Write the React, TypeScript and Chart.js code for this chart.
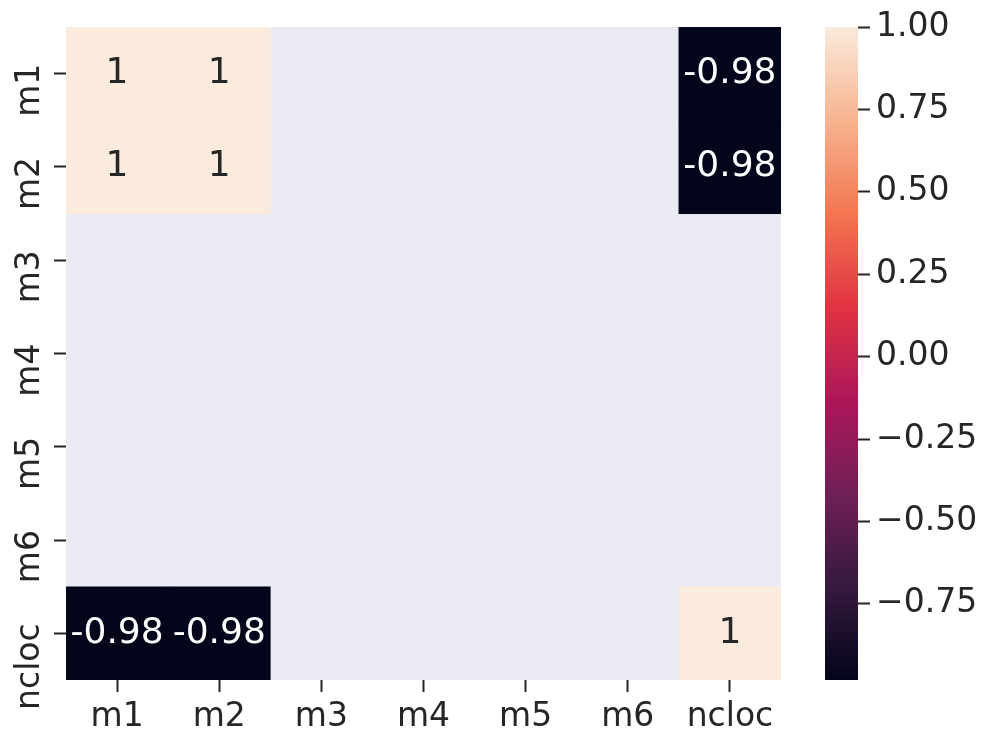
import React, { useEffect, useRef } from 'react';
import { Chart, registerables } from 'chart.js';

Chart.register(...registerables);

const rowLabels = ['m1', 'm2', 'm3', 'm4', 'm5', 'm6', 'ncloc'];
const colLabels = ['m1', 'm2', 'm3', 'm4', 'm5', 'm6', 'ncloc'];

const rowM1 = [1, 1, null, null, null, null, -0.981];
const rowM2 = [1, 1, null, null, null, null, -0.981];
const rowM3 = [null, null, null, null, null, null, null];
const rowM4 = [null, null, null, null, null, null, null];
const rowM5 = [null, null, null, null, null, null, null];
const rowM6 = [null, null, null, null, null, null, null];
const rowNcloc = [-0.981, -0.981, null, null, null, null, 1];

const matrix: (number | null)[][] = [rowM1, rowM2, rowM3, rowM4, rowM5, rowM6, rowNcloc];

const cbarTicks = [-0.75, -0.5, -0.25, 0, 0.25, 0.5, 0.75, 1.0];
const rocketStops = ['#03051a', '#35193e', '#701f57', '#ad1759', '#e13342', '#f37651', '#f6b48f', '#faebdd'];

const allVals = matrix.flat().filter((v) => v !== null) as number[];
const vmin = Math.min(...allVals);
const vmax = Math.max(...allVals);

const FONT = 'DejaVu Sans';
const TEXT = '#262626';
const NAN_BG = '#eaeaf2';

function hexToRgb(h: string) {
  return [parseInt(h.slice(1, 3), 16), parseInt(h.slice(3, 5), 16), parseInt(h.slice(5, 7), 16)];
}
function colorAt(t: number): string {
  const n = rocketStops.length - 1;
  const tt = Math.max(0, Math.min(1, t)) * n;
  const i = Math.min(n - 1, Math.floor(tt));
  const f = tt - i;
  const a = hexToRgb(rocketStops[i]);
  const b = hexToRgb(rocketStops[i + 1]);
  const c = a.map((x, k) => Math.round(x + (b[k] - x) * f));
  return `rgb(${c[0]},${c[1]},${c[2]})`;
}
function luminance(col: string) {
  const m = col.match(/\d+/g)!.map(Number).map((x) => {
    const s = x / 255;
    return s <= 0.03928 ? s / 12.92 : Math.pow((s + 0.055) / 1.055, 2.4);
  });
  return 0.2126 * m[0] + 0.7152 * m[1] + 0.0722 * m[2];
}
function fmt2g(v: number) {
  return Number(v.toPrecision(2)).toString();
}

const bgPlugin = {
  id: 'nanBg',
  beforeDatasetsDraw(chart: any) {
    const { ctx, chartArea } = chart;
    ctx.save();
    ctx.fillStyle = NAN_BG;
    ctx.fillRect(chartArea.left, chartArea.top, chartArea.right - chartArea.left, chartArea.bottom - chartArea.top);
    ctx.restore();
  },
};

const annotPlugin = {
  id: 'annot',
  afterDatasetsDraw(chart: any) {
    const { ctx } = chart;
    ctx.save();
    ctx.font = `36px "${FONT}"`;
    ctx.textAlign = 'center';
    ctx.textBaseline = 'middle';
    chart.data.datasets.forEach((ds: any, i: number) => {
      const meta = chart.getDatasetMeta(i);
      meta.data.forEach((el: any, j: number) => {
        const v = matrix[i][j];
        if (v === null || v === undefined) return;
        const col = colorAt((v - vmin) / (vmax - vmin));
        ctx.fillStyle = luminance(col) < 0.408 ? '#ffffff' : TEXT;
        ctx.fillText(fmt2g(v), el.x, (el.y + el.base) / 2);
      });
    });
    ctx.restore();
  },
};

function Heatmap() {
  const ref = useRef<HTMLCanvasElement>(null);
  useEffect(() => {
    const chart = new Chart(ref.current!, {
      type: 'bar',
      data: {
        labels: colLabels,
        datasets: rowLabels.map((r, i) => ({
          label: r,
          data: colLabels.map((_, j) => (matrix[i][j] === null ? null : [i, i + 1])) as any,
          grouped: false,
          barPercentage: 1,
          categoryPercentage: 1,
          borderWidth: 0,
          backgroundColor: (c: any) => {
            const v = matrix[i][c.dataIndex];
            return v === null ? 'rgba(0,0,0,0)' : colorAt((v - vmin) / (vmax - vmin));
          },
        })),
      },
      options: {
        responsive: false,
        animation: false,
        layout: { padding: { left: 0, top: 27, right: 19, bottom: 0 } },
        plugins: { legend: { display: false }, tooltip: { enabled: false } },
        scales: {
          x: {
            type: 'category',
            offset: true,
            border: { display: false },
            grid: { offset: false, drawOnChartArea: false, drawTicks: true, tickLength: 12, tickWidth: 2, tickColor: TEXT },
            ticks: { color: TEXT, font: { family: FONT, size: 33 }, padding: 6, maxRotation: 0, minRotation: 0 },
            afterFit: (s: any) => { s.height = 66; s.paddingLeft = 0; s.paddingRight = 0; },
          },
          y: {
            type: 'linear',
            min: 0,
            max: rowLabels.length,
            reverse: true,
            border: { display: false },
            grid: { drawOnChartArea: false, drawTicks: true, tickLength: 12, tickWidth: 2, tickColor: TEXT },
            afterBuildTicks: (s: any) => { s.ticks = rowLabels.map((_, i) => ({ value: i + 0.5 })); },
            ticks: {
              color: TEXT,
              font: { family: FONT, size: 33 },
              minRotation: 90,
              maxRotation: 90,
              crossAlign: 'near',
              padding: 24,
              labelOffset: -10,
              callback: (v: any) => rowLabels[Math.floor(Number(v))],
            },
            afterFit: (s: any) => { s.width = 66; s.paddingTop = 0; s.paddingBottom = 0; },
          },
        },
      } as any,
      plugins: [bgPlugin, annotPlugin],
    });
    return () => chart.destroy();
  }, []);
  return <canvas ref={ref} width={800} height={746} style={{ position: 'absolute', left: 0, top: 0, display: 'block' }} />;
}

function ColorBar() {
  const ref = useRef<HTMLCanvasElement>(null);
  useEffect(() => {
    const chart = new Chart(ref.current!, {
      type: 'bar',
      data: {
        labels: ['cbar'],
        datasets: [{
          data: [[vmin, vmax]] as any,
          barPercentage: 1,
          categoryPercentage: 1,
          borderWidth: 0,
          backgroundColor: (c: any) => {
            const ch = c.chart;
            if (!ch.chartArea) return rocketStops[0];
            const ys = ch.scales.y;
            const g = ch.ctx.createLinearGradient(0, ys.getPixelForValue(vmin), 0, ys.getPixelForValue(vmax));
            rocketStops.forEach((col, k) => g.addColorStop(k / (rocketStops.length - 1), col));
            return g;
          },
        }],
      },
      options: {
        responsive: false,
        animation: false,
        layout: { padding: { left: 25, top: 27, right: 0, bottom: 66 } },
        plugins: { legend: { display: false }, tooltip: { enabled: false } },
        scales: {
          x: { type: 'category', display: false, offset: true },
          y: {
            type: 'linear',
            position: 'right',
            min: vmin,
            max: vmax,
            border: { display: false },
            grid: { drawOnChartArea: false, drawTicks: true, tickLength: 12, tickWidth: 2, tickColor: TEXT },
            afterBuildTicks: (s: any) => { s.ticks = cbarTicks.map((v) => ({ value: v })); },
            ticks: {
              color: TEXT,
              font: { family: FONT, size: 33 },
              padding: 6,
              callback: (v: any) => Number(v).toFixed(2).replace('-', '\u2212'),
            },
            afterFit: (s: any) => { s.width = 134; s.paddingTop = 0; s.paddingBottom = 0; },
          },
        },
      } as any,
    });
    return () => chart.destroy();
  }, []);
  return <canvas ref={ref} width={192} height={746} style={{ position: 'absolute', left: 800, top: 0, display: 'block' }} />;
}

export default function App() {
  return (
    <div style={{ position: 'absolute', left: 0, top: 0, width: 992, height: 746, background: '#ffffff', overflow: 'hidden' }}>
      <Heatmap />
      <ColorBar />
    </div>
  );
}
